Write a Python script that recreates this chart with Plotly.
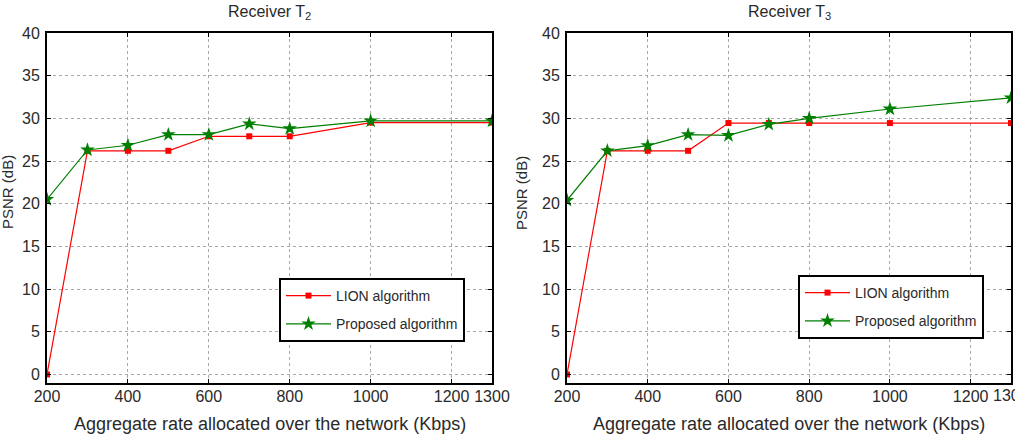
import plotly.graph_objects as go

rates = [200, 300, 400, 500, 600, 700, 800, 1000, 1300]
lion_t2 = [0, 26.2, 26.2, 26.2, 27.9, 27.9, 27.9, 29.5, 29.5]
prop_t2 = [20.5, 26.3, 26.85, 28.1, 28.1, 29.35, 28.8, 29.7, 29.7]
lion_t3 = [0, 26.2, 26.2, 26.2, 29.45, 29.45, 29.45, 29.45, 29.45]
prop_t3 = [20.4, 26.2, 26.8, 28.1, 28.0, 29.3, 30.0, 31.1, 32.4]
x_ticks = [200, 400, 600, 800, 1000, 1200, 1300]
y_ticks = [0, 5, 10, 15, 20, 25, 30, 35, 40]
titles = ["Receiver T<sub>2</sub>", "Receiver T<sub>3</sub>"]
x_title = "Aggregate rate allocated over the network (Kbps)"
y_title = "PSNR (dB)"

FONT = "Liberation Sans, Arial, sans-serif"
TXT = "#2a2a2a"
RED = "#ff0000"
GREEN = "#007f00"

W, H = 1015, 435
dom_x = [[47 / W, 492 / W], [567 / W, 1011 / W]]
dom_y = [1 - 383 / H, 1 - 33 / H]

fig = go.Figure()
panels = [(lion_t2, prop_t2, "x", "y", "legend"), (lion_t3, prop_t3, "x2", "y2", "legend2")]
for i, (lion, prop, xa, ya, lg) in enumerate(panels):
    fig.add_trace(go.Scatter(x=rates, y=lion, mode="lines+markers", name="LION algorithm",
                             xaxis=xa, yaxis=ya, legend=lg, legendgroup=f"l{i}",
                             line=dict(color=RED, width=1.2),
                             marker=dict(symbol="square", size=6, color=RED)))
    fig.add_trace(go.Scatter(x=rates, y=prop, mode="lines+markers", name="Proposed algorithm",
                             xaxis=xa, yaxis=ya, legend=lg, legendgroup=f"p{i}",
                             line=dict(color=GREEN, width=1.2),
                             marker=dict(symbol="star", size=11, color=GREEN)))

axis_style = dict(showgrid=True, gridcolor="#a8a8a8", griddash="dot", gridwidth=1,
                  showline=True, linecolor="black", linewidth=2, mirror="allticks",
                  ticks="inside", ticklen=4, tickcolor="black", zeroline=False,
                  automargin=False, tickfont=dict(family=FONT, size=16, color=TXT))
x1 = dict(range=[200, 1300], tickvals=x_ticks, ticktext=[str(v) for v in x_ticks],
          ticklabelstandoff=-2, **axis_style)
# right panel: last label is clipped by the page edge, drawn as annotation below
x2 = dict(range=[200, 1300], tickvals=x_ticks,
          ticktext=[str(v) for v in x_ticks[:-1]] + [""],
          ticklabelstandoff=-2, **axis_style)
ycommon = dict(range=[-1, 40], tickvals=y_ticks, ticklabelstandoff=2, **axis_style)

legcommon = dict(xanchor="left", yanchor="top", bgcolor="white", bordercolor="black",
                 borderwidth=2, font=dict(family=FONT, size=14, color=TXT),
                 tracegroupgap=7, itemwidth=45, traceorder="grouped")

fig.update_layout(
    width=W, height=H,
    margin=dict(l=0, r=0, t=0, b=0),
    paper_bgcolor="white", plot_bgcolor="white",
    showlegend=True,
    xaxis=dict(domain=dom_x[0], anchor="y", **x1),
    yaxis=dict(domain=dom_y, anchor="x", **ycommon),
    xaxis2=dict(domain=dom_x[1], anchor="y2", **x2),
    yaxis2=dict(domain=dom_y, anchor="x2", **ycommon),
    legend=dict(x=279 / W, y=1 - 278 / H, **legcommon),
    legend2=dict(x=798 / W, y=1 - 275 / H, **legcommon),
)

fig.add_annotation(text=str(x_ticks[-1]), x=x_ticks[-1], y=1 - 395 / H, xref="x2", yref="paper",
                   showarrow=False, font=dict(family=FONT, size=16, color=TXT),
                   xanchor="center", yanchor="middle")

for i in range(2):
    cx = (dom_x[i][0] + dom_x[i][1]) / 2
    fig.add_annotation(text=titles[i], x=cx, y=1 - 12 / H, xref="paper", yref="paper",
                       showarrow=False, font=dict(family=FONT, size=16, color=TXT),
                       xanchor="center", yanchor="middle")
    fig.add_annotation(text=x_title, x=cx, y=1 - 424 / H, xref="paper", yref="paper",
                       showarrow=False, font=dict(family=FONT, size=18, color=TXT),
                       xanchor="center", yanchor="middle")
fig.add_annotation(text=y_title, x=7 / W, y=1 - 192 / H, xref="paper", yref="paper",
                   showarrow=False, textangle=-90, font=dict(family=FONT, size=15, color=TXT),
                   xanchor="center", yanchor="middle")
fig.add_annotation(text=y_title, x=522 / W, y=1 - 193 / H, xref="paper", yref="paper",
                   showarrow=False, textangle=-90, font=dict(family=FONT, size=15, color=TXT),
                   xanchor="center", yanchor="middle")

fig.write_html("out.html")
